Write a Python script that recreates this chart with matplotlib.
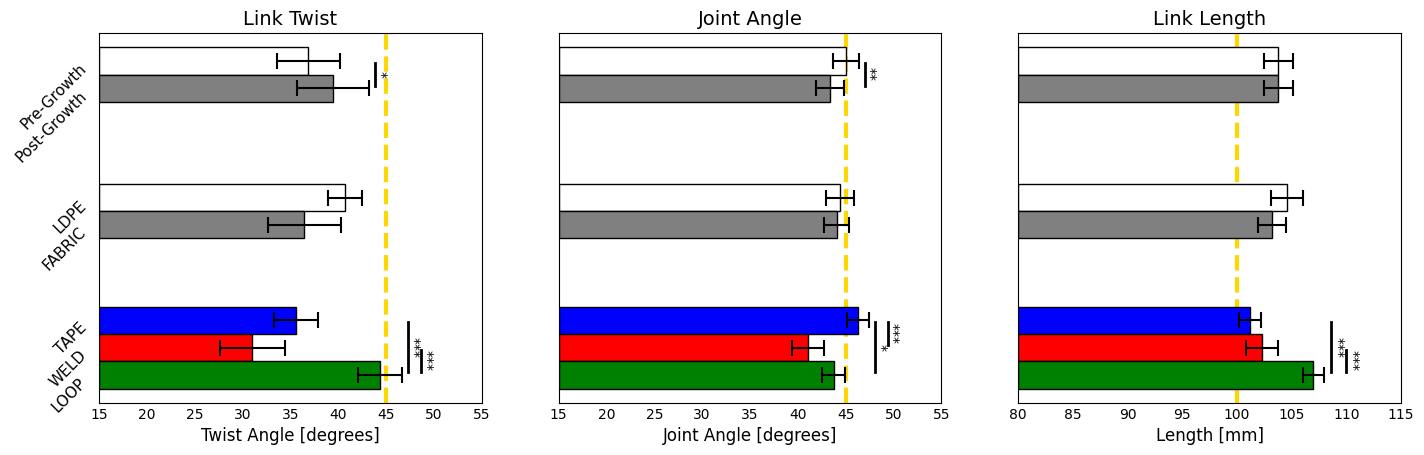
import matplotlib
matplotlib.use("Agg")
import matplotlib.pyplot as plt
import numpy as np

# bar order top to bottom in each group
labels = ["Pre-Growth", "Post-Growth", "LDPE", "FABRIC", "TAPE", "WELD", "LOOP"]
ypos = [11.5, 10.5, 6.5, 5.5, 2, 1, 0]
colors = ["white", "gray", "white", "gray", "blue", "red", "green"]

twist_mean = [36.9, 39.45, 40.7, 36.45, 35.6, 31.0, 44.4]
twist_err = [3.3, 3.75, 1.8, 3.8, 2.3, 3.4, 2.3]

joint_mean = [45.0, 43.4, 44.4, 44.05, 46.25, 41.05, 43.75]
joint_err = [1.35, 1.45, 1.45, 1.35, 1.15, 1.7, 1.2]

length_mean = [103.8, 103.8, 104.6, 103.2, 101.2, 102.3, 107.0]
length_err = [1.35, 1.35, 1.45, 1.25, 1.0, 1.5, 1.0]

# significance: (index a, index b, stars)
twist_sig = [[(0, 1, "*")], [(4, 6, "***"), (5, 6, "***")]]
joint_sig = [[(0, 1, "**")], [(4, 6, "*"), (4, 5, "***")]]
length_sig = [[], [(4, 6, "***"), (5, 6, "***")]]

panels = [
    ("Link Twist", "Twist Angle [degrees]", twist_mean, twist_err, twist_sig, 45, (15, 55)),
    ("Joint Angle", "Joint Angle [degrees]", joint_mean, joint_err, joint_sig, 45, (15, 55)),
    ("Link Length", "Length [mm]", length_mean, length_err, length_sig, 100, (80, 115)),
]

fig, axes = plt.subplots(1, 3, figsize=(14.24, 4.55), dpi=100)
fig.subplots_adjust(left=0.0695, right=0.9838, top=0.9275, bottom=0.1143, wspace=0.201)

for i, (ax, (title, xlabel, mean, err, sig, target, xlim)) in enumerate(zip(axes, panels)):
    mean = np.array(mean)
    err = np.array(err)
    ax.barh(ypos, mean - xlim[0], left=xlim[0], height=1.0, color=colors,
            edgecolor="black", linewidth=1, zorder=2)
    ax.errorbar(mean, ypos, xerr=err, fmt="none", ecolor="black",
                elinewidth=1.5, capsize=6, capthick=1.5, zorder=3)
    ax.axvline(target, color="gold", linestyle="--", linewidth=3, zorder=1)

    upper = mean + err
    for group in sig:
        if not group:
            continue
        idx = [k for s in group for k in s[:2]]
        x = upper[idx].max() + 0.65
        for a, b, stars in group:
            y0 = min(ypos[a], ypos[b]) + 0.1
            y1 = max(ypos[a], ypos[b]) - 0.07
            ax.plot([x, x], [y0, y1], color="black", linewidth=2, zorder=4)
            ax.text(x + 0.55, (y0 + y1) / 2, stars, rotation=270, fontsize=10,
                    ha="center", va="center")
            x += 1.35

    ax.set_xlim(xlim)
    ax.set_ylim(-1.03, 12.53)
    ax.set_xticks(np.arange(xlim[0], xlim[1] + 1, 5))
    ax.set_title(title, fontsize=14)
    ax.set_xlabel(xlabel, fontsize=12)
    ax.tick_params(length=0, labelsize=10)
    if i == 0:
        ax.set_yticks(ypos)
        ax.set_yticklabels(labels, rotation=45, fontsize=11, va="top")
        ax.tick_params(axis="y", pad=7)
    else:
        ax.set_yticks([])

fig.savefig("out.png", dpi=100)
